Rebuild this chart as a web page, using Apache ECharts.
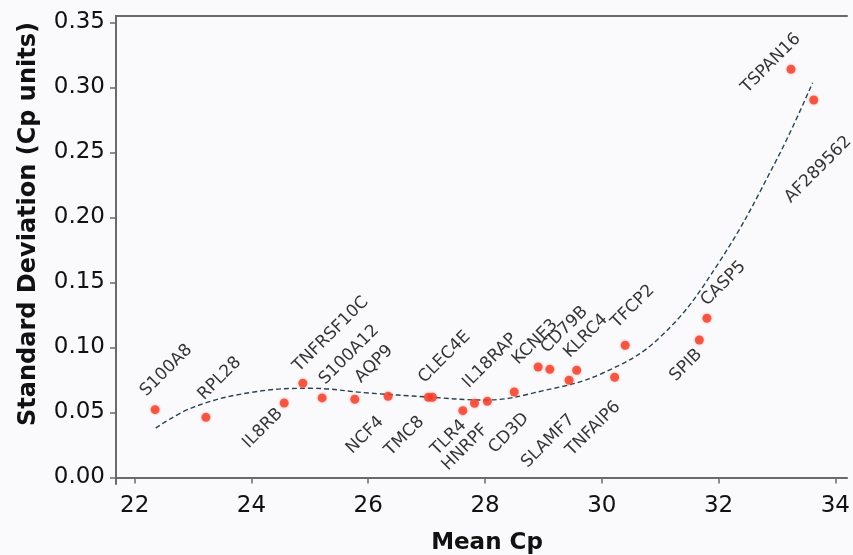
<!DOCTYPE html>
<html><head><meta charset="utf-8">
<script src="https://cdn.jsdelivr.net/npm/echarts@6/dist/echarts.min.js"></script>
<style>html,body{margin:0;padding:0;background:#fafafc}#c{width:853px;height:555px}</style>
</head><body><div id="c"></div>
<script>
// ---- data ----
const genes = ['S100A8','RPL28','IL8RB','TNFRSF10C','S100A12','AQP9','NCF4','CLEC4E','TMC8','TLR4','IL18RAP','HNRPF','CD3D','KCNE3','CD79B','SLAMF7','KLRC4','TNFAIP6','TFCP2','SPIB','CASP5','TSPAN16','AF289562'];
const meanCp = [22.35,23.22,24.56,24.88,25.21,25.77,26.34,27.03,27.10,27.62,27.82,28.04,28.50,28.91,29.11,29.44,29.57,30.22,30.40,31.67,31.80,33.24,33.63];
const stdDev = [0.0522,0.0463,0.0573,0.0725,0.0612,0.0602,0.0625,0.0617,0.0617,0.0514,0.0571,0.0586,0.0658,0.0850,0.0832,0.0748,0.0825,0.0771,0.1017,0.1058,0.1225,0.3140,0.2904];
// dashed trend curve, read at sample positions
const fitX = [22.36,23.0,24.0,25.0,26.0,27.0,28.0,29.0,30.0,31.0,32.0,33.0,33.61];
const fitY = [0.038,0.054,0.0655,0.0686,0.065,0.062,0.0596,0.0668,0.080,0.108,0.165,0.245,0.3037];
const xTicks = [22,24,26,28,30,32,34];
const yTicks = [0,0.05,0.10,0.15,0.20,0.25,0.30,0.35];

// ---- label styling (side + nudge in px) ----
const labelStyle = {
  'S100A8':['up',-6,-10],'RPL28':['up',1,-14],'IL8RB':['down',-10,2],'TNFRSF10C':['up',-1,-8],
  'S100A12':['up',6,-10],'AQP9':['up',9,-13],'NCF4':['down',-13,17],'CLEC4E':['up',-1,-11],
  'TMC8':['down',-17,16],'TLR4':['down',-5,6],'IL18RAP':['up',-3,-12],'HNRPF':['down',-8,20],
  'CD3D':['down',6,18],'KCNE3':['up',-17,1],'CD79B':['up',0,-13],'SLAMF7':['down',-3,31],
  'KLRC4':['up',-4,-9],'TNFAIP6':['down',-3,21],'TFCP2':['up',-5,-14],'SPIB':['down',-6,6],
  'CASP5':['up',3,-9],'TSPAN16':['down',1,-39],'AF289562':['down',29,33]
};
const SYM = 9;
const FONT = '"DejaVu Sans", Verdana, sans-serif';

const pts = genes.map((g,i)=>{
  const s = labelStyle[g];
  const up = s[0]==='up';
  return {
    name: g,
    value: [meanCp[i], stdDev[i]],
    label: {
      show: true, formatter: g, rotate: 45,
      position: [SYM/2 + s[1], SYM/2 + s[2]],
      align: up ? 'left' : 'right',
      verticalAlign: up ? 'bottom' : 'top',
      fontSize: 17, fontFamily: FONT, color: '#000'
    }
  };
});

const chart = echarts.init(document.getElementById('c'), null, {renderer:'canvas'});
const axisColor = '#6a6a6a';
chart.setOption({
  backgroundColor: '#fafafc',
  animation: false,
  grid: {left:116, top:16, right:0, bottom:71, containLabel:false},
  xAxis: [{
    type:'value', min:21.68, max:34.2,
    axisLine:{show:true, lineStyle:{color:axisColor, width:2}},
    axisTick:{show:true, length:6, customValues:xTicks, lineStyle:{color:axisColor, width:1.5}},
    axisLabel:{customValues:xTicks, margin:11, fontSize:23, fontFamily:FONT, color:'#111'},
    splitLine:{show:false}
  },{
    type:'value', position:'top', min:21.68, max:34.2,
    axisLine:{show:true, onZero:false, lineStyle:{color:axisColor, width:2}},
    axisTick:{show:false}, axisLabel:{show:false}, splitLine:{show:false}
  }],
  yAxis: {
    type:'value', min:-0.005, max:0.355,
    axisLine:{show:true, onZero:false, lineStyle:{color:axisColor, width:2}},
    axisTick:{show:true, length:6, customValues:yTicks, lineStyle:{color:axisColor, width:1.5}},
    axisLabel:{customValues:yTicks, margin:11, fontSize:23, fontFamily:FONT, color:'#111',
      formatter:v=>v.toFixed(2)},
    splitLine:{show:false}
  },
  graphic: [
    {type:'text', x:29, y:224, rotation:Math.PI/2,
     style:{text:'Standard Deviation (Cp units)', font:'bold 24px '+FONT, fill:'#111', align:'center', verticalAlign:'middle'}},
    {type:'text', x:487, y:543,
     style:{text:'Mean Cp', font:'bold 23px '+FONT, fill:'#111', align:'center', verticalAlign:'middle'}}
  ],
  series: [
    {type:'line', data: fitX.map((x,i)=>[x, fitY[i]]), smooth:0.4, showSymbol:false, silent:true,
     lineStyle:{color:'#2a4250', width:1.4, type:[5,3]}, z:1},
    {type:'scatter', data: pts, symbol:'circle', symbolSize:SYM,
     itemStyle:{color:'#f23d28', shadowBlur:3, shadowColor:'rgba(240,60,40,0.5)'}, z:2}
  ]
});
</script></body></html>
